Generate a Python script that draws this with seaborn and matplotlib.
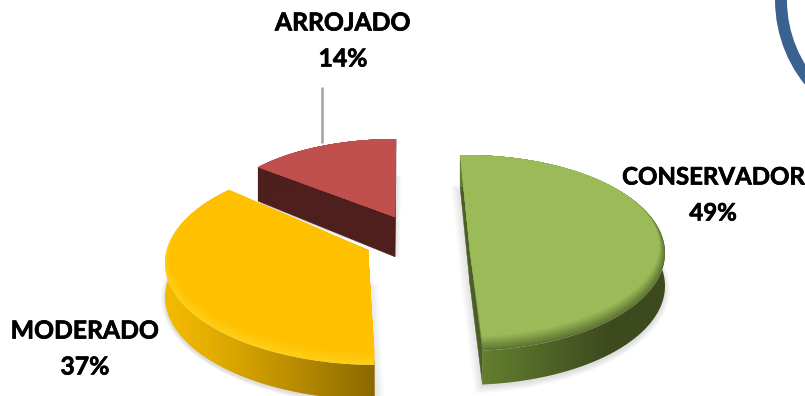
import numpy as np
import pandas as pd
import matplotlib
matplotlib.use("Agg")
import matplotlib.pyplot as plt
import matplotlib.patheffects as pe
from matplotlib.colors import to_rgb
from matplotlib.patches import Circle, Polygon
import seaborn as sns

# Profile shares
categories = ["CONSERVADOR", "MODERADO", "ARROJADO"]
shares = [49, 37, 14]

top_colors = ["#9BBB59", "#FFC000", "#C0504D"]
bevel_colors = ["#5E7532", "#FFCE14", "#B24B48"]
wall_light = ["#64802F", "#F4BA00", "#4F1F1E"]
wall_dark = ["#3D4A1E", "#8A6800", "#4F1F1E"]
cut_colors = ["#4C5E27", "#8A6800", "#4F1F1E"]

sns.set_theme(style="white")
plt.rcParams["font.family"] = ["Lato", "DejaVu Sans"]

df = pd.DataFrame({"category": categories, "share": shares})
df["sweep"] = df["share"] / df["share"].sum() * 360
df["start"] = 91.4 - df["sweep"].cumsum().shift(fill_value=0)

# Projected slice geometry in figure pixels: ellipse centre, radii, apex, tilt of the start angle
cx = [465, 378, 396]
cy = [253, 263, 217]
rx = [200, 213, 179]
ry = [98, 102, 78]
apex_x = [470, 368, 395]
apex_y = [252, 250, 217]
tilt = [0, -6, -1.4]
depth_back = [32, 33, 33]
depth_slope = [0.01, 0.01, 0.12]

W, H = 805, 396
fig = plt.figure(figsize=(W / 100, H / 100), dpi=100)
ax = fig.add_axes([0, 0, 1, 1])


def mix(a, b, t):
    a, b = np.array(to_rgb(a)), np.array(to_rgb(b))
    return a + (b - a) * t


def arc_points(i, inset=0.0):
    a0 = df["start"][i] + tilt[i]
    theta = np.radians(np.linspace(a0, a0 - df["sweep"][i], 200))
    x = cx[i] + (rx[i] - inset * 0.8) * np.cos(theta)
    y = (cy[i] - inset) - (ry[i] - inset) * np.sin(theta)
    return x, y


def extrude(i, y):
    return y + depth_back[i] + depth_slope[i] * (y - 160)


def wall_shade(i, xs):
    # Shading of the rim as a function of horizontal position
    if i == 0:
        return np.clip((xs - 480) / 130, 0, 1)
    if i == 1:
        return np.clip((xs - 165) / 210, 0, 1) ** 1.2
    return np.zeros_like(xs)


# Soft ground shadow below every slice
for i in range(3):
    x, y = arc_points(i)
    px = np.r_[apex_x[i], x]
    py = np.r_[apex_y[i], y]
    mx, my = px.mean(), py.mean()
    for s in np.linspace(1.07, 1.0, 8):
        ax.fill(mx + (px - mx) * s, my + (py - my) * s + depth_back[i] + 4,
                color="#555555", alpha=0.025, lw=0)

for i in [2, 0, 1]:
    x, y = arc_points(i)
    # Flat cut faces
    for ex, ey in ((x[0], y[0]), (x[-1], y[-1])):
        ax.fill([apex_x[i], ex, ex, apex_x[i]],
                [apex_y[i], ey, extrude(i, ey), extrude(i, apex_y[i])],
                color=cut_colors[i], lw=0.3)
    # Curved outer wall: a horizontal gradient clipped to the rim outline
    xs = np.linspace(x.min(), x.max(), 300)
    shade = wall_shade(i, xs)
    strip = np.array([[mix(wall_light[i], wall_dark[i], t) for t in shade]])
    rim = Polygon(np.c_[np.r_[x, x[::-1]], np.r_[y, extrude(i, y)[::-1]]],
                  closed=True, transform=ax.transData, fc="none", ec="none")
    ax.add_patch(rim)
    img = ax.imshow(strip, extent=(x.min(), x.max(), y.max() + 60, y.min()),
                    aspect="auto", interpolation="bilinear", zorder=1.0)
    img.set_clip_path(rim)
    # Top face, with a bevel that fades towards the rim
    steps = 9
    bevel = 7 if i != 2 else 1
    for j in range(steps):
        f = j / (steps - 1)
        ix, iy = arc_points(i, inset=bevel * f)
        ax.fill(np.r_[apex_x[i], ix], np.r_[apex_y[i], iy],
                color=mix(bevel_colors[i], top_colors[i], f), lw=0, zorder=1.2 + 0.01 * i)

ax.set_xlim(0, W)
ax.set_ylim(H, 0)
ax.axis("off")

# Leader line of the smallest slice
ax.plot([321.5, 321.5], [87, 143], color="#A6A6A6", lw=1.9, solid_capstyle="butt", zorder=3)

# Decorative ring entering from the corner
ax.add_patch(Circle((910, 0), 129, fill=False, ec="#3A6290", lw=8.6, zorder=3))

label_x = [713, 85, 343]
label_y = [177, 331, 23]
halo = [pe.withStroke(linewidth=0.5, foreground="black")]
for i, name in enumerate(categories):
    size = 17.3 if i == 0 else 17.8
    for text, yy in ((name, label_y[i]), (f"{shares[i]}%", label_y[i] + 36)):
        ax.text(label_x[i], yy, text, ha="center", va="center", fontsize=size,
                fontweight="bold", color="black", path_effects=halo, zorder=4)

fig.savefig("out.png", dpi=100, facecolor="white")
